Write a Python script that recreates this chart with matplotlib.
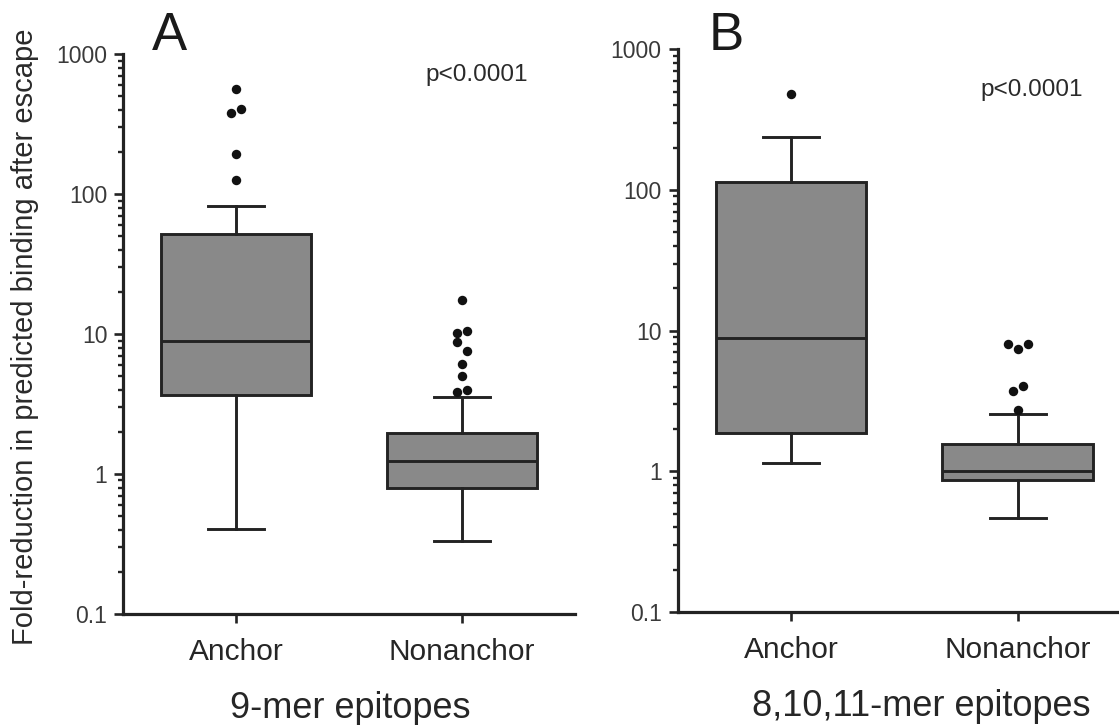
import numpy as np
import matplotlib
matplotlib.use("Agg")
import matplotlib.pyplot as plt
from matplotlib.ticker import LogLocator, FixedLocator, NullFormatter

plt.rcParams['font.family'] = ['Liberation Sans', 'DejaVu Sans']

# ---------------- data ----------------
categories = ["Anchor", "Nonanchor"]
yticks = [0.1, 1, 10, 100, 1000]
ytick_labels = ["0.1", "1", "10", "100", "1000"]

# Panel A : 9-mer epitopes  (whislo, q1, median, q3, whishi)
a_anchor_stats = [0.404, 3.65, 8.87, 52.2, 81.8]
a_nonanchor_stats = [0.33, 0.794, 1.24, 1.98, 3.53]
a_anchor_out = [565, 408, 380, 195, 127]
a_nonanchor_out = [17.6, 10.6, 10.2, 8.83, 7.57, 6.11, 5.05, 4.0, 3.88]

# Panel B : 8,10,11-mer epitopes
b_anchor_stats = [1.15, 1.87, 8.87, 114.6, 237]
b_nonanchor_stats = [0.466, 0.873, 1.01, 1.57, 2.57]
b_anchor_out = [479]
b_nonanchor_out = [8.1, 8.1, 7.45, 4.02, 3.75, 2.71]

panel_letters = ["A", "B"]
p_texts = ["p<0.0001", "p<0.0001"]
xlabels = ["9-mer epitopes", "8,10,11-mer epitopes"]
ylabel = "Fold-reduction in predicted binding after escape"

# ---------------- style ----------------
DARK = "#232323"
FILL = "#898989"
LW = 2.1


def make_stats(s, label):
    return dict(whislo=s[0], q1=s[1], med=s[2], q3=s[3], whishi=s[4],
                fliers=[], label=label)


def dodge(values, d=0.022, thr=0.07):
    vals = sorted(values, reverse=True)
    logs = np.log10(vals)
    clusters, cur = [], [0]
    for i in range(1, len(vals)):
        if logs[i - 1] - logs[i] < thr:
            cur.append(i)
        else:
            clusters.append(cur)
            cur = [i]
    clusters.append(cur)
    patterns = {1: [0], 2: [1, -1], 3: [-2, 2, 0], 4: [1, -1, -1, 1]}
    offs = []
    for c in clusters:
        p = patterns.get(len(c), [((-1) ** k) * ((k + 1) // 2) for k in range(len(c))])
        offs += [k * d for k in p]
    return vals, offs


fig = plt.figure(figsize=(11.19, 7.25), dpi=100)
axA = fig.add_axes([0.1102, 0.1531, 0.4037, 0.7720])
axB = fig.add_axes([0.6055, 0.1559, 0.4053, 0.7761])

panels = [
    (axA, a_anchor_stats, a_nonanchor_stats, a_anchor_out, a_nonanchor_out),
    (axB, b_anchor_stats, b_nonanchor_stats, b_anchor_out, b_nonanchor_out),
]

for ax, s1, s2, o1, o2 in panels:
    stats = [make_stats(s1, categories[0]), make_stats(s2, categories[1])]
    ax.bxp(stats, positions=[1, 2], widths=0.664, capwidths=0.248,
           showfliers=False, patch_artist=True,
           boxprops=dict(facecolor=FILL, edgecolor=DARK, linewidth=LW),
           whiskerprops=dict(color=DARK, linewidth=LW),
           capprops=dict(color=DARK, linewidth=LW),
           medianprops=dict(color=DARK, linewidth=LW))
    for pos, outs in zip([1, 2], [o1, o2]):
        vals, offs = dodge(outs)
        ax.plot(np.array(offs) + pos, vals, 'o', color="#111111",
                markersize=6.8, markeredgewidth=0, zorder=5, clip_on=False)

    ax.set_yscale('log')
    ax.set_ylim(0.1, 1000)
    ax.set_xlim(0.5, 2.5)
    ax.yaxis.set_major_locator(FixedLocator(yticks))
    ax.set_yticklabels(ytick_labels)
    ax.yaxis.set_minor_locator(LogLocator(base=10, subs=np.arange(2, 10)))
    ax.yaxis.set_minor_formatter(NullFormatter())
    ax.set_xticks([1, 2])
    ax.set_xticklabels(categories)
    for side in ['top', 'right']:
        ax.spines[side].set_visible(False)
    for side in ['left', 'bottom']:
        ax.spines[side].set_linewidth(2.3)
        ax.spines[side].set_color(DARK)
    ax.tick_params(axis='y', which='major', direction='out', length=6.5,
                   width=1.9, color=DARK, labelsize=16.5, labelcolor="#3a3a3a", pad=5)
    ax.tick_params(axis='y', which='minor', direction='out', length=3.8,
                   width=1.7, color=DARK)
    ax.tick_params(axis='x', which='major', direction='out', length=6.5,
                   width=1.9, color=DARK, labelsize=21.5, labelcolor="#262626", pad=11)
    ax.tick_params(axis='x', which='minor', length=0)

axA.set_xlabel(xlabels[0], fontsize=26, color="#262626")
axB.set_xlabel(xlabels[1], fontsize=26, color="#262626")
axA.xaxis.set_label_coords(0.502, -0.137)
axB.xaxis.set_label_coords(0.537, -0.137)

# panel letters
fig.text(152 / 1119, 1 - 50 / 725, panel_letters[0], fontsize=38, color="#1a1a1a",
         ha='left', va='baseline')
fig.text(709 / 1119, 1 - 50 / 725, panel_letters[1], fontsize=38, color="#1a1a1a",
         ha='left', va='baseline')

# p-values
fig.text(425 / 1119, 1 - 81 / 725, p_texts[0], fontsize=17.5, color="#2a2a2a",
         ha='left', va='baseline')
fig.text(980 / 1119, 1 - 96 / 725, p_texts[1], fontsize=17.5, color="#2a2a2a",
         ha='left', va='baseline')

# y label
fig.text(25 / 1119, 1 - 337 / 725, ylabel, fontsize=21, color="#2a2a2a",
         rotation=90, ha='center', va='center')

fig.savefig("out.png", dpi=100)
